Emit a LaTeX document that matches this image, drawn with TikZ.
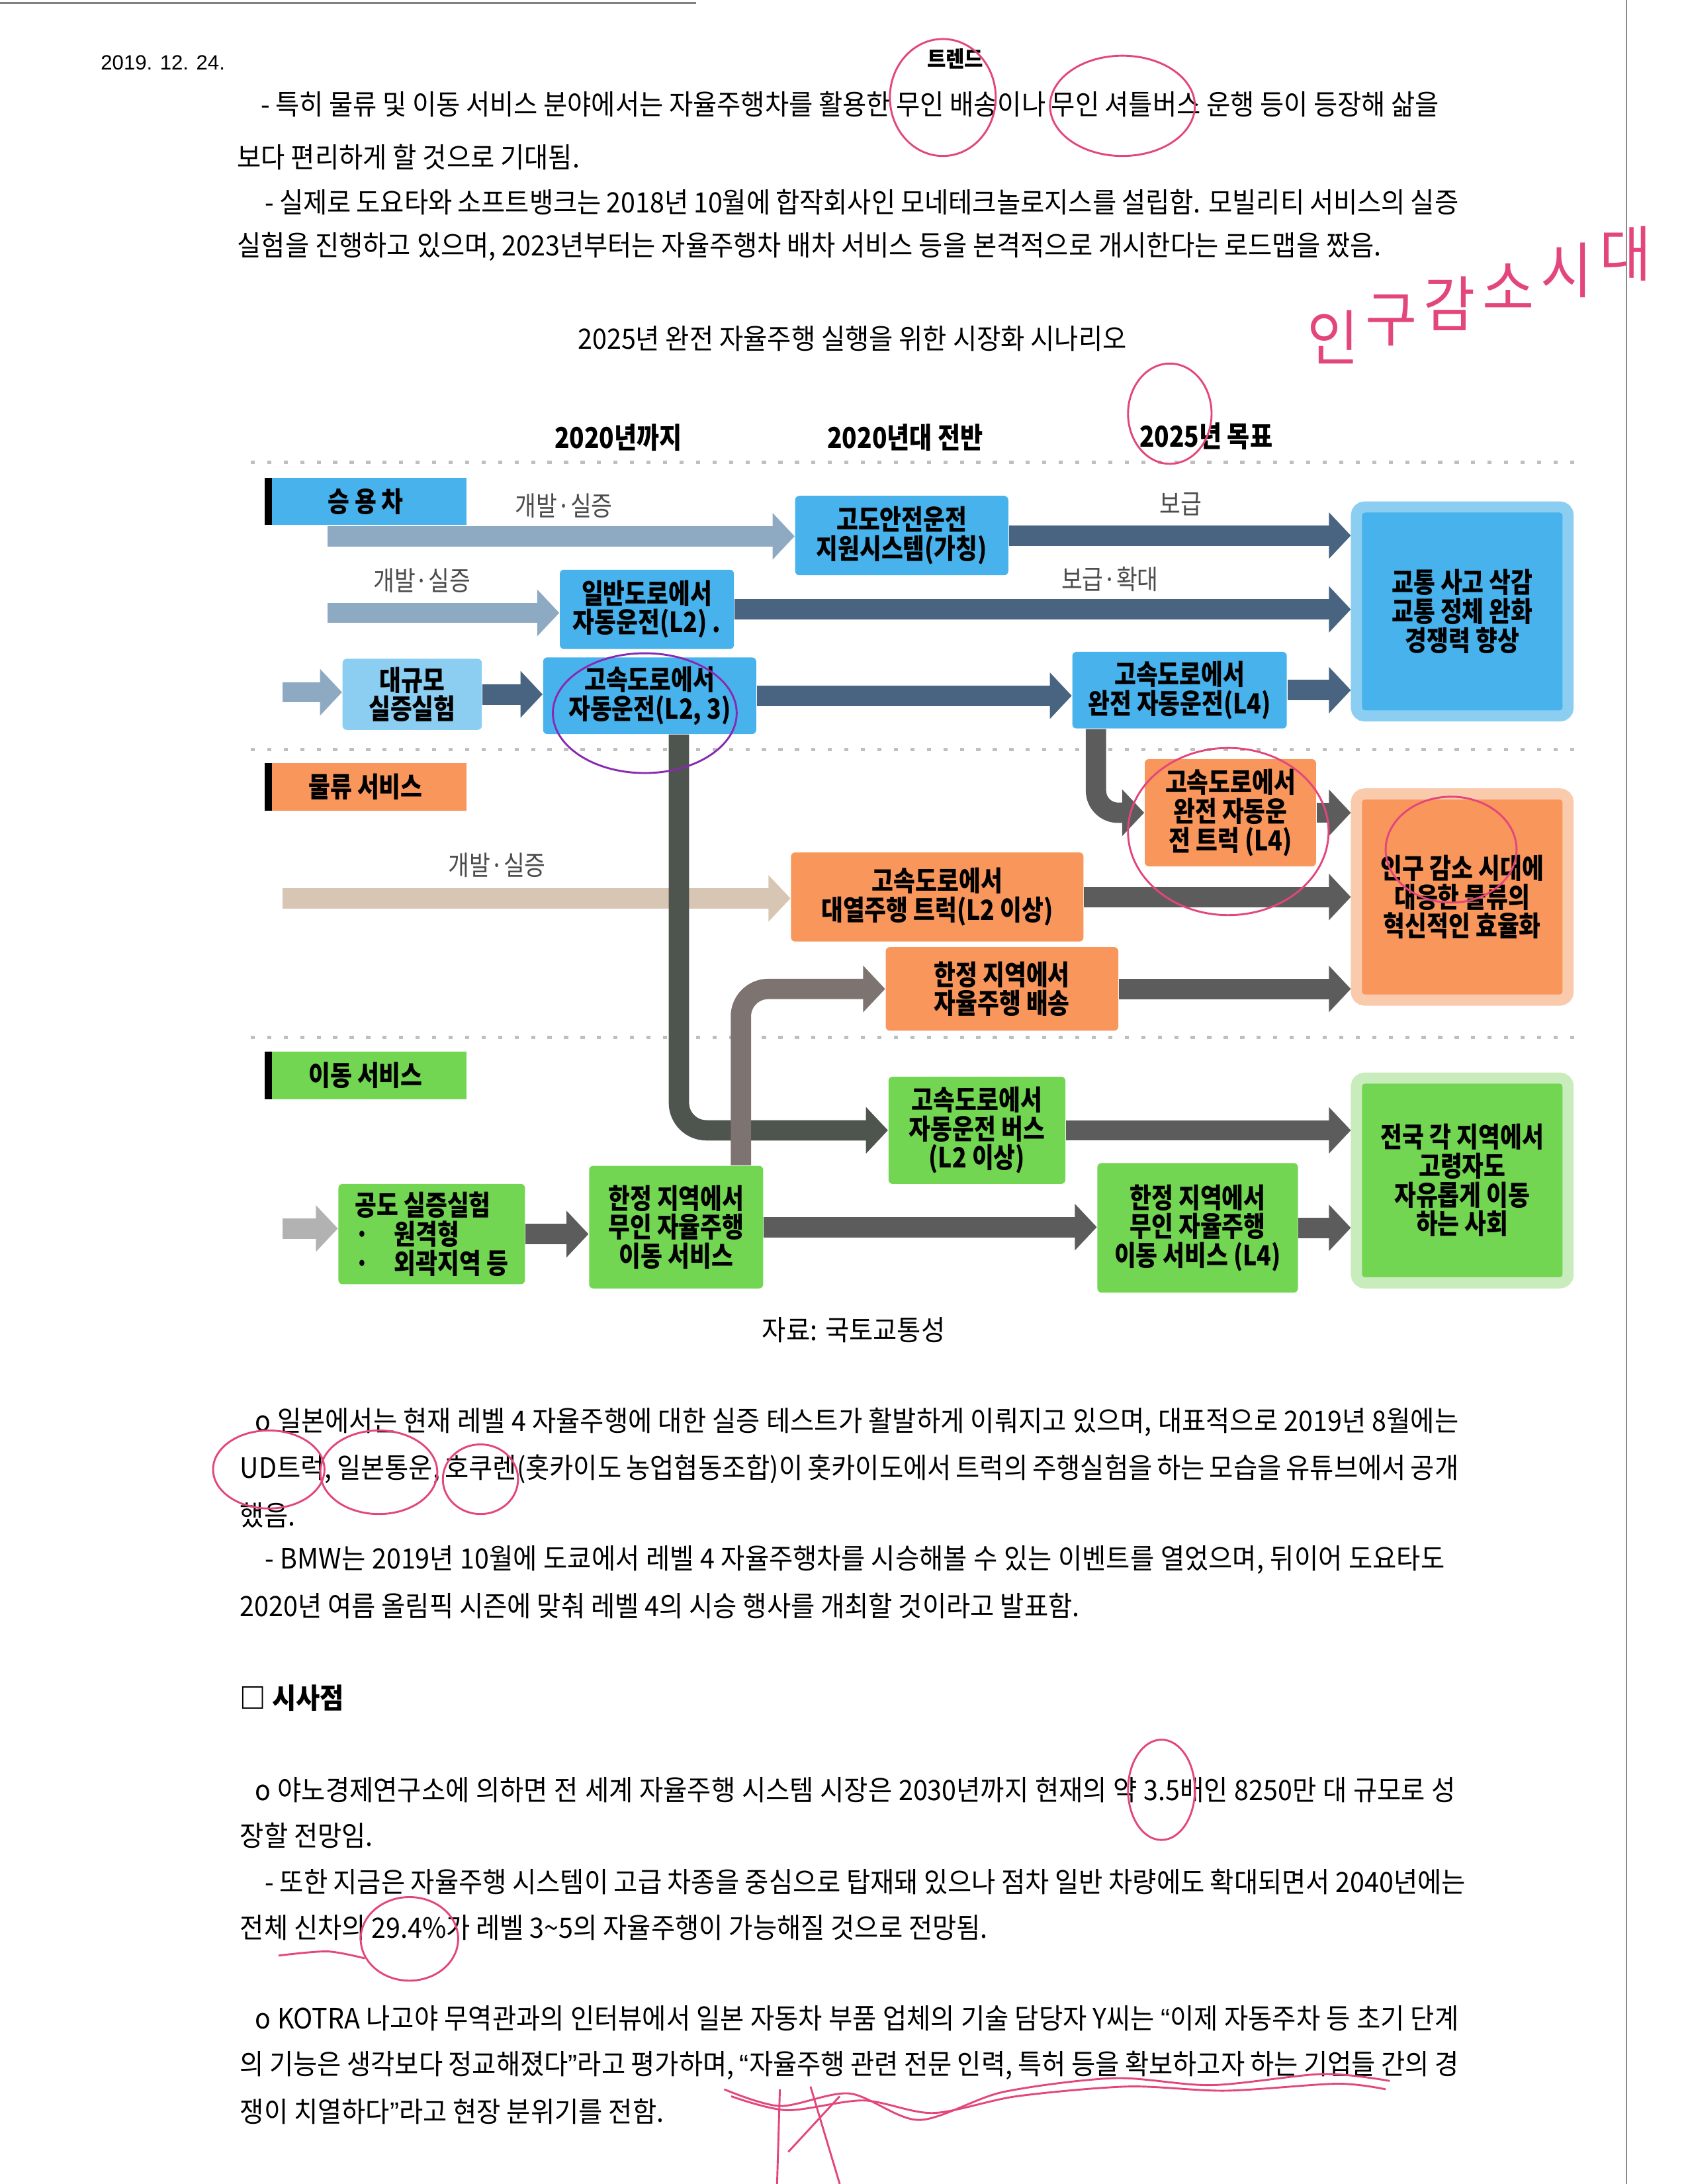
\documentclass[tikz,border=0pt]{standalone}
\usepackage{fontspec}
\setmainfont{Noto Sans CJK KR}[FakeStretch=0.93]
\newfontfamily\dgfont{Noto Sans CJK KR}[FakeStretch=0.85]
\newfontfamily\datefont{Liberation Sans}
\usetikzlibrary{arrows.meta,positioning}
\newlength\pxu \setlength\pxu{0.017814cm}
\newcommand\jl[2]{\makebox[#1\pxu][s]{#2}}
\newcommand\oq{{\datefont “}}
\newcommand\cq{{\datefont ”}}
\definecolor{skyb}{RGB}{72,178,236}
\definecolor{skyl}{RGB}{140,206,242}
\definecolor{orng}{RGB}{248,150,92}
\definecolor{orngl}{RGB}{250,202,172}
\definecolor{grn}{RGB}{115,214,82}
\definecolor{grnl}{RGB}{200,236,188}
\definecolor{lightar}{RGB}{142,170,195}
\definecolor{darkar}{RGB}{72,100,128}
\definecolor{grayar}{RGB}{92,92,92}
\definecolor{elbowA}{RGB}{78,84,78}
\definecolor{rosy}{RGB}{125,115,112}
\definecolor{beige}{RGB}{216,198,180}
\definecolor{penpink}{RGB}{226,70,125}

\begin{document}
\begin{tikzpicture}[x=0.017814cm, y=-0.017814cm,
  every node/.style={inner sep=0pt},
  txt/.style={anchor=west, font=\fontsize{10.2}{11.5}\selectfont},
  hdr/.style={font=\dgfont\bfseries\fontsize{10.5}{12}\selectfont},
  lbl/.style={font=\dgfont\fontsize{9.8}{11}\selectfont, text=black!70},
  box/.style={rounded corners=1.5pt, align=center, font=\dgfont\bfseries\fontsize{10.1}{10.5}\selectfont},
  cat/.style={box, rounded corners=0pt, minimum width=145\pxu, minimum height=34\pxu,
    path picture={\fill[black] (path picture bounding box.north west) rectangle ([xshift=2.6pt]path picture bounding box.south west);}},
  goal/.style={box, rounded corners=3pt, line width=8\pxu, minimum width=152\pxu},
  fat/.style={line width=7.4pt, -{Triangle[length=8pt,width=16.5pt]}},
  sep/.style={black!25, line width=1.2pt, dash pattern=on 1.5pt off 4.5pt},
  pen/.style={draw=penpink, line width=0.7pt},
  hand/.style={text=penpink, font=\fontsize{22}{22}\selectfont}]
\useasboundingbox (0,0) rectangle (1212,1568);

% scan edges
\draw[black!45, line width=0.6pt] (1168,0) -- (1168,1568);
\draw[black!50, line width=0.8pt] (0,2) -- (500,2);

% text above the chart
\node[anchor=west, font=\datefont\fontsize{7.5}{9}\selectfont] (date) at (72,45) {2019. 12. 24.};
\node[font=\bfseries\fontsize{8}{9}\selectfont] (trend) at (686,42) {트렌드};
\node[txt] (p1a) at (187,75) {\jl{846}{- 특히 물류 및 이동 서비스 분야에서는 자율주행차를 활용한 무인 배송이나 무인 셔틀버스 운행 등이 등장해 삶을}};
\node[txt] (p1b) at (170,113) {보다 편리하게 할 것으로 기대됨.};
\node[txt] (p2a) at (190,145) {\jl{857}{- 실제로 도요타와 소프트뱅크는 2018년 10월에 합작회사인 모네테크놀로지스를 설립함. 모빌리티 서비스의 실증}};
\node[txt] (p2b) at (170,177) {실험을 진행하고 있으며, 2023년부터는 자율주행차 배차 서비스 등을 본격적으로 개시한다는 로드맵을 짰음.};
\node[font=\fontsize{10.2}{11.5}\selectfont] (ttl) at (612,243) {2025년 완전 자율주행 실행을 위한 시장화 시나리오};

% period headers and row separators
\node[hdr] (y1) at (444,314) {2020년까지};
\node[hdr] (y2) at (650,314) {2020년대 전반};
\node[hdr] (y3) at (866,313) {2025년 목표};
\draw[sep] (180,332) -- (1135,332);
\draw[sep] (180,538) -- (1135,538);
\draw[sep] (180,745) -- (1135,745);

% passenger cars
\node[cat, fill=skyb] (car) at (262.5,360) {승 용 차};
\node[box, fill=skyb, minimum width=153\pxu, minimum height=57\pxu] (adas) at (647.5,384.5) {고도안전운전\\지원시스템(가칭)};
\node[box, fill=skyb, minimum width=125\pxu, minimum height=57\pxu] (l2) at (464.5,437.5) {일반도로에서\\자동운전(L2) .};
\node[box, fill=skyl, minimum width=100\pxu, minimum height=51\pxu] (trial) at (296,498.5) {대규모\\실증실험};
\node[box, fill=skyb, minimum width=153\pxu, minimum height=55\pxu] (l23) at (466.5,499.5) {고속도로에서\\자동운전(L2, 3)};
\node[box, fill=skyb, minimum width=154\pxu, minimum height=55\pxu] (l4) at (847,495.5) {고속도로에서\\완전 자동운전(L4)};
\node[goal, draw=skyl, fill=skyb, minimum height=150\pxu] (goalA) at (1050,439) {교통 사고 삭감\\교통 정체 완화\\경쟁력 향상};

% logistics
\node[cat, fill=orng] (logi) at (262.5,565) {물류 서비스};
\node[box, fill=orng, minimum width=123\pxu, minimum height=77\pxu] (truck) at (883.5,583.5) {고속도로에서\\완전 자동운\\전 트럭 (L4)};
\node[box, fill=orng, minimum width=210\pxu, minimum height=64\pxu] (platoon) at (673,644) {고속도로에서\\대열주행 트럭(L2 이상)};
\node[box, fill=orng, minimum width=167\pxu, minimum height=60\pxu] (deliv) at (719.5,710) {한정 지역에서\\자율주행 배송};
\node[goal, draw=orngl, fill=orng, minimum height=148\pxu] (goalB) at (1050,644) {인구 감소 시대에\\대응한 물류의\\혁신적인 효율화};

% mobility services
\node[cat, fill=grn] (mob) at (262.5,772) {이동 서비스};
\node[box, fill=grn, minimum width=127\pxu, minimum height=77\pxu] (bus) at (701.5,811.5) {고속도로에서\\자동운전 버스\\(L2 이상)};
\node[box, fill=grn, align=left, minimum width=134\pxu, minimum height=72\pxu] (road) at (310,886) {공도 실증실험\\·\hspace{9pt}원격형\\·\hspace{9pt}외곽지역 등};
\node[box, fill=grn, minimum width=125\pxu, minimum height=88\pxu] (zone) at (485.5,881) {한정 지역에서\\무인 자율주행\\이동 서비스};
\node[box, fill=grn, minimum width=144\pxu, minimum height=93\pxu] (zoneL4) at (860,881.5) {한정 지역에서\\무인 자율주행\\이동 서비스 (L4)};
\node[goal, draw=grnl, fill=grn, minimum height=147\pxu] (goalC) at (1050,847.5) {전국 각 지역에서\\고령자도\\자유롭게 이동\\하는 사회};

% arrows
\coordinate (s1) at (235,385);
\coordinate (s2) at (235,440);
\coordinate (s3) at (203,497);
\coordinate (s4) at (203,645);
\coordinate (s5) at (203,882);
\draw[fat, color=lightar] (s1) -- (s1 -| adas.west);
\draw[fat, color=darkar] (adas.east) -- (adas.east -| goalA.west);
\draw[fat, color=lightar] (s2) -- (s2 -| l2.west);
\draw[fat, color=darkar] (l2.east) -- (l2.east -| goalA.west);
\draw[fat, color=lightar] (s3) -- (s3 -| trial.west);
\draw[fat, color=darkar] (trial.east) -- (trial.east -| l23.west);
\draw[fat, color=darkar] (l23.east) -- (l23.east -| l4.west);
\draw[fat, color=darkar] (l4.east) -- (l4.east -| goalA.west);
\draw[fat, color=beige] (s4) -- (s4 -| platoon.west);
\draw[fat, color=grayar] (platoon.east) -- (platoon.east -| goalB.west);
\draw[fat, color=grayar, rounded corners=8pt] (l4.south) ++(-60,0) |- (truck.west);
\draw[fat, color=grayar] (truck.east) -- (truck.east -| goalB.west);
\draw[fat, color=elbowA, rounded corners=10pt] (l23.south) ++(21,0) |- (bus.west);
\draw[fat, color=rosy, rounded corners=10pt] (zone.north) ++(46.5,0) |- (deliv.west);
\draw[fat, color=grayar] (deliv.east) -- (deliv.east -| goalB.west);
\draw[fat, color=grayar] (bus.east) -- (bus.east -| goalC.west);
\draw[fat, color=black!30] (s5) -- (s5 -| road.west);
\draw[fat, color=grayar] (road.east) -- (road.east -| zone.west);
\draw[fat, color=grayar] (zone.east) -- (zone.east -| zoneL4.west);
\draw[fat, color=grayar] (zoneL4.east) -- (zoneL4.east -| goalC.west);

% arrow labels
\node[lbl] (dev1) at (405,363) {개발·실증};
\node[lbl] (spread) at (848,362) {보급};
\node[lbl] (dev2) at (303,417) {개발·실증};
\node[lbl] (grow) at (797,416) {보급·확대};
\node[lbl] (dev3) at (357,621) {개발·실증};
\node[font=\fontsize{10.2}{11.5}\selectfont] (src) at (613,955) {자료: 국토교통성};

% text below the chart
\node[txt] (q1a) at (183,1021) {\jl{864}{o 일본에서는 현재 레벨 4 자율주행에 대한 실증 테스트가 활발하게 이뤄지고 있으며, 대표적으로 2019년 8월에는}};
\node[txt] (q1b) at (172,1055) {\jl{875}{UD트럭, 일본통운, 호쿠렌(홋카이도 농업협동조합)이 홋카이도에서 트럭의 주행실험을 하는 모습을 유튜브에서 공개}};
\node[txt] (q1c) at (172,1088) {했음.};
\node[txt] (q2a) at (190,1120) {\jl{847}{- BMW는 2019년 10월에 도쿄에서 레벨 4 자율주행차를 시승해볼 수 있는 이벤트를 열었으며, 뒤이어 도요타도}};
\node[txt] (q2b) at (172,1153) {2020년 여름 올림픽 시즌에 맞춰 레벨 4의 시승 행사를 개최할 것이라고 발표함.};
\node[txt, font=\bfseries\fontsize{10.2}{11.5}\selectfont] (imp) at (172,1219) {□ 시사점};
\node[txt] (r1a) at (183,1285) {\jl{862}{o 야노경제연구소에 의하면 전 세계 자율주행 시스템 시장은 2030년까지 현재의 약 3.5배인 8250만 대 규모로 성}};
\node[txt] (r1b) at (172,1318) {장할 전망임.};
\node[txt] (r2a) at (190,1351) {\jl{862}{- 또한 지금은 자율주행 시스템이 고급 차종을 중심으로 탑재돼 있으나 점차 일반 차량에도 확대되면서 2040년에는}};
\node[txt] (r2b) at (172,1384) {전체 신차의 29.4\%가 레벨 3\textasciitilde5의 자율주행이 가능해질 것으로 전망됨.};
\node[txt] (t1a) at (183,1449) {\jl{864}{o KOTRA 나고야 무역관과의 인터뷰에서 일본 자동차 부품 업체의 기술 담당자 Y씨는 \oq 이제 자동주차 등 초기 단계}};
\node[txt] (t1b) at (172,1483) {\jl{875}{의 기능은 생각보다 정교해졌다\cq 라고 평가하며, \oq 자율주행 관련 전문 인력, 특허 등을 확보하고자 하는 기업들 간의 경}};
\node[txt] (t1c) at (172,1516) {쟁이 치열하다\cq 라고 현장 분위기를 전함.};

% pen marks
\node[hand] (m1) at (957,242) {인};
\node[hand] (m2) at (999,230) {구};
\node[hand] (m3) at (1041,218) {감};
\node[hand] (m4) at (1083,206) {소};
\node[hand] (m5) at (1125,194) {시};
\node[hand] (m6) at (1167,182) {대};
\draw[pen] (677,70) ellipse [x radius=38, y radius=42];
\draw[pen] (806,76) ellipse [x radius=52, y radius=36];
\draw[pen] (840,297) ellipse [x radius=30, y radius=36];
\draw[pen, draw=penpink!60!blue] (463,512) ellipse [x radius=66, y radius=43];
\draw[pen] (882,597) ellipse [x radius=72, y radius=60];
\draw[pen] (1042,610) ellipse [x radius=47, y radius=38];
\draw[pen] (193,1055) ellipse [x radius=40, y radius=28];
\draw[pen] (272,1057) ellipse [x radius=42, y radius=30];
\draw[pen] (345,1062) ellipse [x radius=27, y radius=25];
\draw[pen] (834,1285) ellipse [x radius=24, y radius=36];
\draw[pen] (294,1392) ellipse [x radius=35, y radius=30];
\draw[pen] plot[smooth] coordinates {(200,1404) (235,1401) (262,1406)};
\draw[pen] plot[smooth] coordinates {(520,1500) (560,1512) (610,1503) (660,1522) (720,1502) (800,1492) (870,1497) (950,1489) (998,1494)};
\draw[pen] plot[smooth] coordinates {(525,1505) (565,1515) (620,1508) (670,1517) (730,1505) (810,1498) (880,1501) (960,1496) (995,1500)};
\draw[pen] (560,1500) -- (558,1568);
\draw[pen] (582,1498) -- (603,1568);
\draw[pen] (603,1505) -- (566,1545);
\end{tikzpicture}
\end{document}
